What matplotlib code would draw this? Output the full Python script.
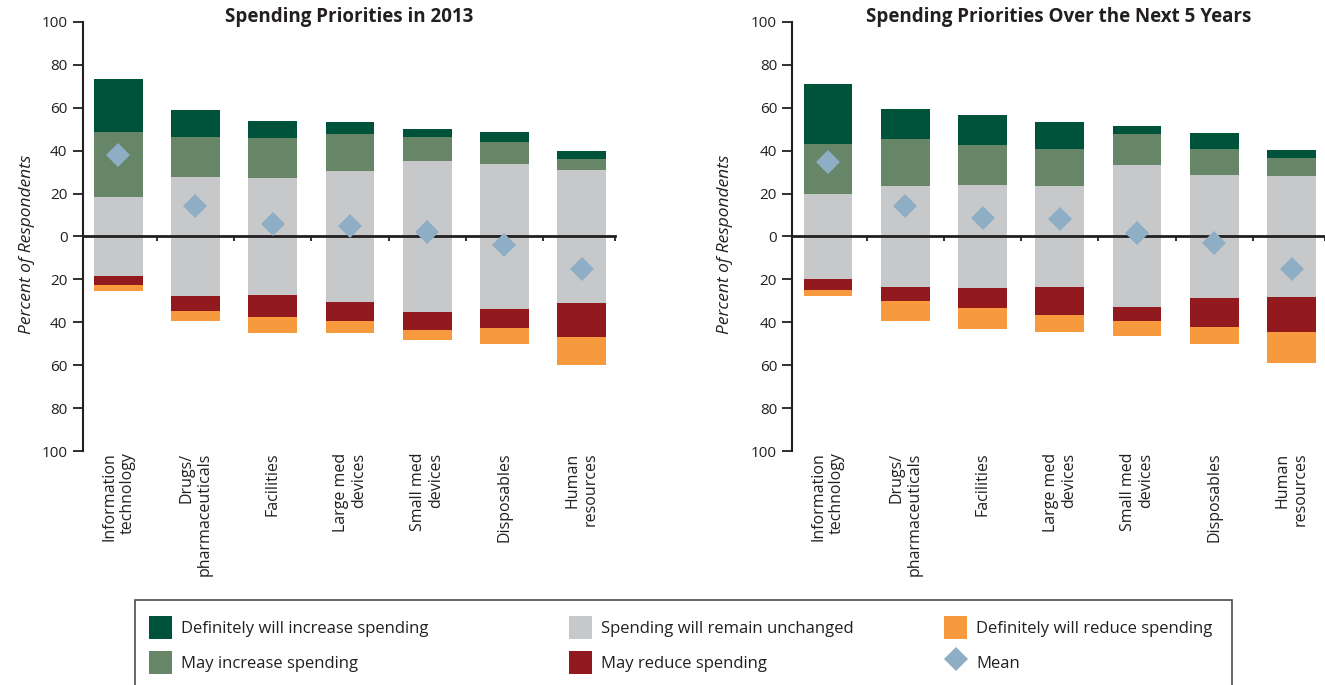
import matplotlib
matplotlib.use("Agg")
import matplotlib.pyplot as plt
from matplotlib.patches import Patch, Rectangle
from matplotlib.lines import Line2D
import numpy as np

plt.rcParams['font.family'] = ['Open Sans', 'DejaVu Sans']

# ---------------- data ----------------
categories = ["Information\ntechnology", "Drugs/\npharmaceuticals", "Facilities",
              "Large med\ndevices", "Small med\ndevices", "Disposables", "Human\nresources"]

def_inc_2013 = [25.0, 12.5, 7.8, 5.6, 3.8, 4.6, 3.7]
may_inc_2013 = [30.1, 19.0, 19.0, 17.1, 11.1, 10.6, 5.1]
unchanged_2013 = [37.0, 55.1, 54.2, 61.1, 70.8, 67.2, 62.0]
may_red_2013 = [4.2, 7.4, 10.2, 8.8, 8.3, 9.2, 15.8]
def_red_2013 = [2.7, 4.6, 7.8, 5.5, 4.7, 7.4, 12.9]
mean_2013 = [37.8, 14.4, 5.6, 5.0, 1.9, -3.8, -15.0]

def_inc_5yr = [28.2, 13.9, 13.9, 12.5, 3.8, 7.4, 3.7]
may_inc_5yr = [23.2, 21.8, 18.5, 17.6, 14.8, 12.0, 8.8]
unchanged_5yr = [39.8, 47.2, 48.2, 46.8, 66.2, 57.4, 56.0]
may_red_5yr = [5.1, 6.5, 9.2, 13.4, 6.5, 13.4, 16.7]
def_red_5yr = [2.8, 9.2, 9.7, 7.8, 6.9, 7.9, 14.3]
mean_5yr = [34.7, 14.4, 8.8, 8.0, 1.4, -3.1, -15.1]

yticks = [-100, -80, -60, -40, -20, 0, 20, 40, 60, 80, 100]

titles = ["Spending Priorities in 2013", "Spending Priorities Over the Next 5 Years"]
legend_labels = ["Definitely will increase spending", "May increase spending",
                 "Spending will remain unchanged", "May reduce spending",
                 "Definitely will reduce spending", "Mean"]

# ---------------- style ----------------
DGREEN = "#00533B"
MGREEN = "#678567"
GRAY = "#C7C8CA"
DRED = "#921A1E"
ORANGE = "#F79A3E"
MEANC = "#8EAEC5"
INK = "#231F20"

fig = plt.figure(figsize=(13.25, 6.85), dpi=100)
ax1 = fig.add_axes([0.0624, 0.3416, 0.4017, 0.6263])
ax2 = fig.add_axes([0.598, 0.3416, 0.402, 0.6263])


def draw(ax, title, dinc, minc, unch, mred, dred, mean, ylab_x):
    x = np.arange(len(categories))
    dinc = np.array(dinc); minc = np.array(minc); unch = np.array(unch)
    mred = np.array(mred); dred = np.array(dred)
    half = unch / 2.0
    w = 0.63
    ax.bar(x, half, bottom=0, width=w, color=GRAY, linewidth=0)
    ax.bar(x, -half, bottom=0, width=w, color=GRAY, linewidth=0)
    ax.bar(x, minc, bottom=half, width=w, color=MGREEN, linewidth=0)
    ax.bar(x, dinc, bottom=half + minc, width=w, color=DGREEN, linewidth=0)
    ax.bar(x, -mred, bottom=-half, width=w, color=DRED, linewidth=0)
    ax.bar(x, -dred, bottom=-half - mred, width=w, color=ORANGE, linewidth=0)
    ax.plot(x, mean, linestyle='none', marker='D', markersize=12,
            color=MEANC, markeredgewidth=0, zorder=5)

    xr = 6.43
    ax.set_xlim(-0.46, xr)
    ax.set_ylim(-100, 100)
    ax.set_yticks(yticks)
    ax.set_yticklabels([str(abs(v)) for v in yticks])
    ax.tick_params(axis='y', direction='out', length=7, width=1.3, pad=4,
                   labelsize=11, colors=INK)

    for s in ['top', 'right']:
        ax.spines[s].set_visible(False)
    ax.spines['left'].set_linewidth(1.5)
    ax.spines['left'].set_color(INK)
    ax.spines['bottom'].set_position(('data', 0))
    ax.spines['bottom'].set_linewidth(2.0)
    ax.spines['bottom'].set_color(INK)
    ax.spines['bottom'].set_zorder(4)

    ax.set_xticks([])
    ax.set_xticks([i + 0.5 for i in range(len(categories) - 1)] + [xr], minor=True)
    ax.tick_params(axis='x', which='minor', direction='out', length=3.5,
                   width=1.3, color=INK)

    sec = ax.secondary_xaxis('bottom')
    sec.set_xticks(x, labels=categories)
    sec.tick_params(length=0, pad=1, labelsize=11.5, colors=INK)
    for lab in sec.get_xticklabels():
        lab.set_rotation(90)
        lab.set_va('top')
        lab.set_ha('center')
        lab.set_multialignment('right')
    sec.spines['bottom'].set_visible(False)

    ax.set_ylabel("Percent of Respondents", style='italic', fontsize=12.5, color=INK)
    ax.yaxis.set_label_coords(ylab_x, 0.4825)

    ax.text(0.5, 1.012, title, transform=ax.transAxes, ha='center', va='center',
            fontsize=13.5, fontweight='bold', color=INK)


draw(ax1, titles[0], def_inc_2013, may_inc_2013, unchanged_2013, may_red_2013,
     def_red_2013, mean_2013, -0.0896)
draw(ax2, titles[1], def_inc_5yr, may_inc_5yr, unchanged_5yr, may_red_5yr,
     def_red_5yr, mean_5yr, -0.111)

# ---------------- legend ----------------
handles = [Patch(facecolor=DGREEN), Patch(facecolor=MGREEN), Patch(facecolor=GRAY),
           Patch(facecolor=DRED), Patch(facecolor=ORANGE),
           Line2D([], [], linestyle='none', marker='D', markersize=12,
                  color=MEANC, markeredgewidth=0)]

frame = Rectangle((135 / 1325, -0.05), (1232 - 135) / 1325, 0.05 + 1 - 600 / 685,
                  transform=fig.transFigure, fill=False, edgecolor="#4D4D4F",
                  linewidth=1.2)
fig.add_artist(frame)

col_x = [149 / 1325, 569 / 1325, 944 / 1325]
top_y = 1 - 616 / 685
for c in range(3):
    fig.legend(handles[2 * c:2 * c + 2], legend_labels[2 * c:2 * c + 2],
               loc='upper left', bbox_to_anchor=(col_x[c], top_y),
               frameon=False, borderpad=0, borderaxespad=0,
               handlelength=1.38, handleheight=1.75, handletextpad=0.54,
               labelspacing=0.72, fontsize=12, labelcolor=INK)

fig.savefig("out.png", dpi=100)
